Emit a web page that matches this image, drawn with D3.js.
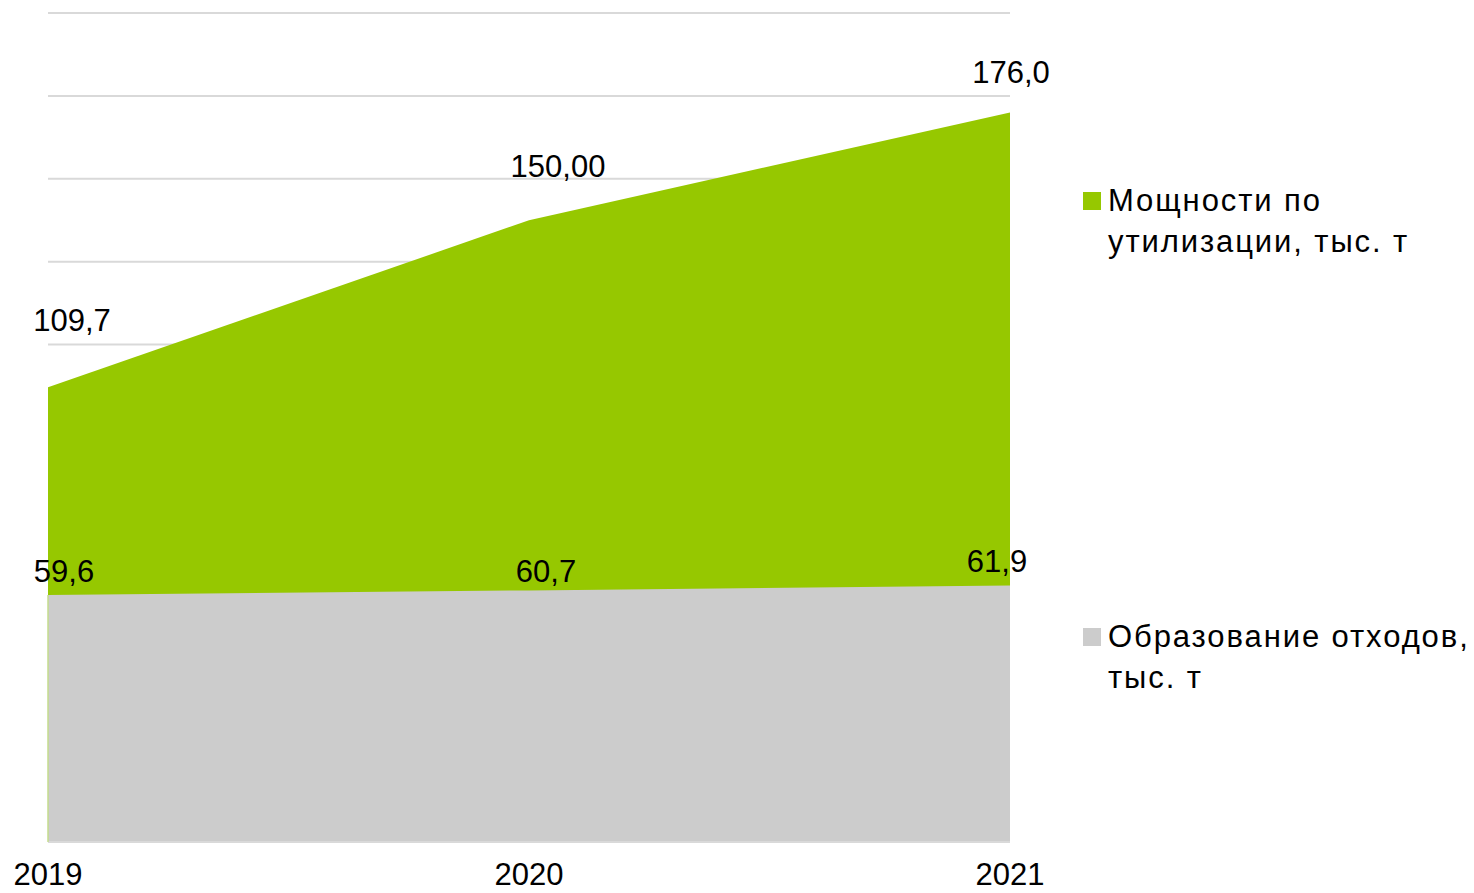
<!DOCTYPE html>
<html><head><meta charset="utf-8">
<script src="https://cdn.jsdelivr.net/npm/d3@7"></script>
<style>body{margin:0;background:#fff;} text{font-family:"Liberation Sans",Arial,sans-serif;fill:#000;}</style>
</head><body>
<svg id="c" width="1474" height="893"></svg>
<script>
const years = ["2019","2020","2021"];
const capacity = [109.7, 150.0, 176.0];
const capacityLabels = ["109,7","150,00","176,0"];
const waste = [59.6, 60.7, 61.9];
const wasteLabels = ["59,6","60,7","61,9"];
const yTicks = [0,20,40,60,80,100,120,140,160,180,200];
const legendItems = [
  {lines:["Мощности по","утилизации, тыс. т"], color:"#96c800"},
  {lines:["Образование отходов,","тыс. т"], color:"#cccccc"}
];

const svg = d3.select("#c");
const x = d3.scalePoint().domain(years).range([48,1010]);
const y = d3.scaleLinear().domain([0,200]).range([842,13]);

svg.append("g").selectAll("line").data(yTicks).join("line")
  .attr("x1",48).attr("x2",1010)
  .attr("y1",d=>y(d)).attr("y2",d=>y(d))
  .attr("stroke","#d9d9d9").attr("stroke-width",2);

const area = d3.area().x(d=>x(d.year)).y0(y(0)).y1(d=>y(d.v));
const capData = years.map((yr,i)=>({year:yr,v:capacity[i]}));
const wasteData = years.map((yr,i)=>({year:yr,v:waste[i]}));

svg.append("path").datum(capData).attr("d",area).attr("fill","#96c800");
svg.append("path").datum(wasteData).attr("d",area).attr("fill","#cccccc");
svg.append("line").attr("x1",48).attr("x2",1010).attr("y1",y(0)).attr("y2",y(0))
  .attr("stroke","#d9d9d9").attr("stroke-width",2);
svg.append("line").attr("x1",x(years[0])).attr("x2",x(years[0])).attr("y1",y(0)).attr("y2",y(waste[0]))
  .attr("stroke","#c4dc8c").attr("stroke-width",1.5);

const capDx = [24,29,1], capDy = [-56,-43,-29];
const wasteDx = [16,17,-13], wasteDy = [-13,-8,-13];
const fs = 31;
svg.append("g").selectAll("text").data(capData).join("text")
  .attr("x",(d,i)=>x(d.year)+capDx[i]).attr("y",(d,i)=>y(d.v)+capDy[i])
  .attr("text-anchor","middle").attr("font-size",fs).text((d,i)=>capacityLabels[i]);
svg.append("g").selectAll("text").data(wasteData).join("text")
  .attr("x",(d,i)=>x(d.year)+wasteDx[i]).attr("y",(d,i)=>y(d.v)+wasteDy[i])
  .attr("text-anchor","middle").attr("font-size",fs).text((d,i)=>wasteLabels[i]);

svg.append("g").selectAll("text").data(years).join("text")
  .attr("x",d=>x(d)).attr("y",885).attr("text-anchor","middle").attr("font-size",fs).text(d=>d);

const legY = [211, 647];
legendItems.forEach((it,i)=>{
  const g = svg.append("g");
  g.append("rect").attr("x",1083).attr("y",legY[i]-19).attr("width",18).attr("height",18).attr("fill",it.color);
  it.lines.forEach((l,j)=>{
    g.append("text").attr("x",1108).attr("y",legY[i]+j*40.5).attr("font-size",fs)
      .attr("letter-spacing",1.9).text(l);
  });
});
</script>
</body></html>
